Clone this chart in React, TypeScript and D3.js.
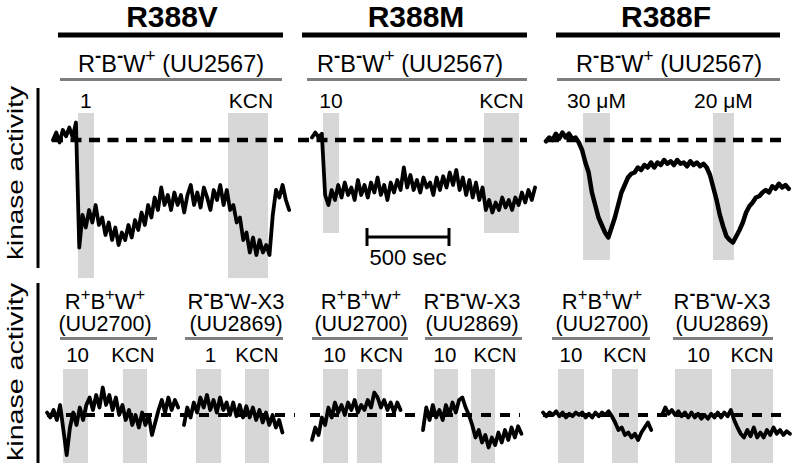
import React from 'react';
import * as d3 from 'd3';

// ---------- DATA ----------
// time step between samples (s); traces are relative kinase activity (% of baseline)
const SAMPLE_DT = 20;
const SCALE_BAR_SEC = 500;

const mutants = ['R388V', 'R388M', 'R388F'];
const topStrains = ['R^-B^-W^+ (UU2567)', 'R^-B^-W^+ (UU2567)', 'R^-B^-W^+ (UU2567)'];
const bottomStrainNames = ['R^+B^+W^+', 'R^-B^-W-X3', 'R^+B^+W^+', 'R^-B^-W-X3', 'R^+B^+W^+', 'R^-B^-W-X3'];
const bottomStrainIds = ['(UU2700)', '(UU2869)', '(UU2700)', '(UU2869)', '(UU2700)', '(UU2869)'];

const traceR388V_UU2567 = [
  100, 106, 98, 108, 103, 110, 102, 114, 14, 40,
  30, 44, 34, 48, 32, 38, 24, 34, 20, 30,
  16, 26, 20, 32, 22, 36, 28, 42, 32, 48,
  38, 54, 44, 62, 48, 56, 44, 58, 48, 56,
  42, 56, 64, 48, 58, 46, 62, 54, 44, 60,
  52, 64, 48, 60, 44, 48, 34, 38, 20, 26,
  10, 22, 8, 20, 10, 16, 8, 40, 60, 54,
  64, 52, 44,
];
const traceR388M_UU2567 = [
  102, 106, 102, 105, 56, 48, 60, 52, 64, 54,
  66, 56, 62, 52, 68, 56, 64, 54, 66, 58,
  70, 56, 64, 52, 66, 58, 68, 60, 78, 62,
  72, 60, 68, 58, 70, 62, 66, 56, 70, 60,
  71, 62, 74, 64, 76, 60, 70, 56, 68, 54,
  66, 52, 62, 44, 52, 42, 50, 44, 54, 46,
  52, 44, 54, 48, 58, 50, 60, 52, 62,
];
const traceR388F_UU2567 = [
  99, 102, 100, 105, 101, 106, 102, 105, 101, 102,
  98, 92, 82, 74, 58, 48, 38, 32, 26, 22,
  30, 38, 48, 58, 64, 70, 73, 74, 78, 76,
  80, 78, 82, 78, 82, 80, 84, 81, 83, 80,
  84, 81, 82, 79, 83, 80, 82, 79, 81, 78,
  72, 62, 52, 40, 31, 23, 20, 18, 23, 28,
  34, 42, 47, 50, 54, 55, 58, 60, 58, 63,
  61, 65, 62, 64, 61,
];
const traceR388V_UU2700 = [
  102, 98, 104, 96, 108, 88, 68, 90, 102, 92,
  106, 96, 108, 114, 104, 116, 106, 122, 108, 116,
  104, 114, 100, 108, 96, 104, 92, 100, 90, 102,
  92, 100, 84, 94, 104, 112, 102, 114, 104, 112,
  106,
];
const traceR388V_UU2869 = [
  92, 106, 98, 110, 102, 114, 106, 116, 104, 112,
  102, 114, 104, 110, 100, 110, 99, 108, 98, 107,
  98, 106, 96, 104, 94, 102, 92, 100, 90, 96,
  86,
];
const traceR388M_UU2700 = [
  80, 90, 84, 98, 92, 106, 98, 110, 102, 108,
  100, 110, 104, 112, 102, 108, 104, 112, 106, 118,
  114, 106, 112, 104, 110, 102, 110, 104,
];
const traceR388M_UU2869 = [
  88, 106, 96, 108, 98, 104, 96, 108, 100, 110,
  102, 112, 114, 106, 100, 92, 82, 88, 78, 84,
  74, 82, 76, 86, 78, 88, 80, 90, 82, 91,
  85,
];
const traceR388F_UU2700 = [
  102, 99, 102, 100, 103, 99, 102, 98, 101, 99,
  102, 100, 102, 98, 101, 98, 102, 99, 102, 100,
  103, 99, 94, 88, 90, 84, 86, 82, 85, 80,
  86, 90, 94, 88,
];
const traceR388F_UU2869 = [
  100, 106, 101, 104, 100, 103, 99, 102, 98, 102,
  98, 101, 97, 100, 97, 101, 98, 102, 98, 102,
  99, 104, 96, 90, 85, 82, 88, 83, 90, 82,
  86, 82, 88, 84, 90, 85, 88, 84, 87, 85,
];

// stimulus windows (s from trace start) and their labels
const stimTopV = [[152, 250], [1067, 1311]];
const stimTopM = [[67, 165], [1049, 1262]];
const stimTopF = [[226, 390], [1018, 1146]];
const stimLabelsTopV = ['1', 'KCN'];
const stimLabelsTopM = ['10', 'KCN'];
const stimLabelsTopF = ['30 μM', '20 μM'];
const stimBotV1 = [[98, 250], [463, 610]];
const stimBotV2 = [[73, 226], [372, 518]];
const stimBotM1 = [[67, 220], [274, 427]];
const stimBotM2 = [[67, 213], [293, 439]];
const stimBotF1 = [[91, 250], [421, 579]];
const stimBotF2 = [[79, 305], [421, 677]];
const stimLabelsBotV1 = ['10', 'KCN'];
const stimLabelsBotV2 = ['1', 'KCN'];
const stimLabelsBotM1 = ['10', 'KCN'];
const stimLabelsBotM2 = ['10', 'KCN'];
const stimLabelsBotF1 = ['10', 'KCN'];
const stimLabelsBotF2 = ['10', 'KCN'];

const yAxisLabel = 'kinase activity';
const scaleBarLabel = '500 sec';

// ---------- LAYOUT ----------
const W = 793;
const H = 465;
const FONT = '"Liberation Sans", Arial, Helvetica, sans-serif';
const PX_PER_S = 82 / 500;
const SHADE = '#d7d7d7';
const GRAY = '#7f7f7f';

const topPanels = [
  { values: traceR388V_UU2567, x0: 53, shadeY: [113, 278], stim: stimTopV, labels: stimLabelsTopV, labelDx: [0, 3], dash: [52, 283], sw: 3.8 },
  { values: traceR388M_UU2567, x0: 312, shadeY: [113, 233], stim: stimTopM, labels: stimLabelsTopM, labelDx: [0, 0], dash: [298, 527], sw: 3.8 },
  { values: traceR388F_UU2567, x0: 546, shadeY: [113, 260], stim: stimTopF, labels: stimLabelsTopF, labelDx: [0, 0], dash: [548, 786], sw: 4.5 },
];
const bottomPanels = [
  { values: traceR388V_UU2700, x0: 47, stim: stimBotV1, labels: stimLabelsBotV1, labelDx: [2, -2], sub: 105, line: [60, 157] },
  { values: traceR388V_UU2869, x0: 184, stim: stimBotV2, labels: stimLabelsBotV2, labelDx: [2, 0], sub: 236, line: [185, 283] },
  { values: traceR388M_UU2700, x0: 312, stim: stimBotM1, labels: stimLabelsBotM1, labelDx: [-1, 12], sub: 361, line: [312, 408] },
  { values: traceR388M_UU2869, x0: 423, stim: stimBotM2, labels: stimLabelsBotM2, labelDx: [-1, 12], sub: 472, line: [425, 522] },
  { values: traceR388F_UU2700, x0: 543, stim: stimBotF1, labels: stimLabelsBotF1, labelDx: [0, 0], sub: 602, line: [552, 650] },
  { values: traceR388F_UU2869, x0: 662, stim: stimBotF2, labels: stimLabelsBotF2, labelDx: [5, 0], sub: 722, line: [673, 773] },
];
const bottomDash = [[47, 295], [310, 520], [543, 790]];
const headers = [
  { cx: 172, bar: [58, 283], sub: 171, line: [60, 282] },
  { cx: 416, bar: [302, 527], sub: 410, line: [307, 527] },
  { cx: 666, bar: [556, 780], sub: 669, line: [557, 780] },
];

const yTop = d3.scaleLinear().domain([0, 100]).range([265, 140]);
const yBot = d3.scaleLinear().domain([0, 100]).range([540, 415]);

function xScaleFor(x0: number, n: number) {
  const T = (n - 1) * SAMPLE_DT;
  return d3.scaleLinear().domain([0, T]).range([x0, x0 + T * PX_PER_S]);
}

function Rich({ text, x, y, size, anchor = 'middle' }: any) {
  const parts: any[] = [];
  const re = /\^([+-])/g;
  let last = 0;
  let m: any;
  let k = 0;
  let pendingDown = false;
  const up = size * 0.42;
  while ((m = re.exec(text)) !== null) {
    const before = text.slice(last, m.index);
    if (before) {
      parts.push(<tspan key={k++} dy={pendingDown ? up : 0}>{before}</tspan>);
      pendingDown = false;
    }
    const isMinus = m[1] === '-';
    parts.push(
      <tspan key={k++} dy={pendingDown ? 0 : -up} fontSize={size * (isMinus ? 0.8 : 0.75)}
        fontWeight={isMinus ? 'bold' : 'normal'}>
        {isMinus ? '-' : '+'}
      </tspan>
    );
    pendingDown = true;
    last = m.index + m[0].length;
  }
  const rest = text.slice(last);
  if (rest) parts.push(<tspan key={k++} dy={pendingDown ? up : 0}>{rest}</tspan>);
  return (
    <text x={x} y={y} fontSize={size} textAnchor={anchor} fontFamily={FONT} fill="#000">
      {parts}
    </text>
  );
}

export default function App() {
  const line = (xs: any, ys: any) =>
    d3.line<number>().x((_, i) => xs(i * SAMPLE_DT)).y((d) => ys(d));

  return (
    <svg width={W} height={H} style={{ position: 'absolute', left: 0, top: 0, background: '#fff' }}>
      <rect x={0} y={0} width={W} height={H} fill="#fff" />
      {/* headers */}
      {headers.map((h, i) => (
        <g key={'h' + i}>
          <text x={h.cx} y={27} fontSize={30} fontWeight="bold" textAnchor="middle" fontFamily={FONT}>
            {mutants[i]}
          </text>
          <line x1={h.bar[0]} x2={h.bar[1]} y1={35} y2={35} stroke="#000" strokeWidth={5} />
          <Rich text={topStrains[i]} x={h.sub} y={72} size={23.5} />
          <line x1={h.line[0]} x2={h.line[1]} y1={79.5} y2={79.5} stroke={GRAY} strokeWidth={3} />
        </g>
      ))}

      {/* y axes */}
      <line x1={38} x2={38} y1={88} y2={268} stroke="#000" strokeWidth={3} />
      <line x1={38} x2={38} y1={283} y2={463} stroke="#000" strokeWidth={3} />
      <text transform="translate(22.5,173) rotate(-90)" fontSize={22} textAnchor="middle" fontFamily={FONT}
        textLength={174} lengthAdjust="spacingAndGlyphs">{yAxisLabel}</text>
      <text transform="translate(22.5,372) rotate(-90)" fontSize={22} textAnchor="middle" fontFamily={FONT}
        textLength={178} lengthAdjust="spacingAndGlyphs">{yAxisLabel}</text>

      {/* top panels */}
      {topPanels.map((p, i) => {
        const xs = xScaleFor(p.x0, p.values.length);
        return (
          <g key={'t' + i}>
            {p.stim.map((s, j) => (
              <rect key={j} x={xs(s[0])} y={p.shadeY[0]} width={xs(s[1]) - xs(s[0])}
                height={p.shadeY[1] - p.shadeY[0]} fill={SHADE} />
            ))}
            {p.stim.map((s, j) => (
              <text key={'l' + j} x={(xs(s[0]) + xs(s[1])) / 2 + p.labelDx[j]} y={108} fontSize={21}
                textAnchor="middle" fontFamily={FONT}>{p.labels[j]}</text>
            ))}
            <line x1={p.dash[0]} x2={p.dash[1]} y1={yTop(100)} y2={yTop(100)} stroke="#000"
              strokeWidth={4.5} strokeDasharray="11 7.5" />
            <path d={line(xs, yTop)(p.values) || ''} fill="none" stroke="#000" strokeWidth={p.sw}
              strokeLinejoin="round" strokeLinecap="round" />
          </g>
        );
      })}

      {/* scale bar */}
      {(() => {
        const xs = xScaleFor(topPanels[1].x0, topPanels[1].values.length);
        const a = xs(0) + 55;
        const b = a + (xs(SCALE_BAR_SEC) - xs(0));
        return (
          <g>
            <line x1={a} x2={b} y1={237} y2={237} stroke="#000" strokeWidth={3} />
            <line x1={a} x2={a} y1={228} y2={246} stroke="#000" strokeWidth={3} />
            <line x1={b} x2={b} y1={228} y2={246} stroke="#000" strokeWidth={3} />
            <text x={(a + b) / 2} y={265} fontSize={22} textAnchor="middle" fontFamily={FONT}>{scaleBarLabel}</text>
          </g>
        );
      })()}

      {/* bottom panels */}
      {bottomPanels.map((p, i) => {
        const xs = xScaleFor(p.x0, p.values.length);
        return (
          <g key={'b' + i}>
            {p.stim.map((s, j) => (
              <rect key={j} x={xs(s[0])} y={369} width={xs(s[1]) - xs(s[0])} height={94} fill={SHADE} />
            ))}
          </g>
        );
      })}
      {bottomDash.map((d, i) => (
        <line key={'bd' + i} x1={d[0]} x2={d[1]} y1={yBot(100)} y2={yBot(100)} stroke="#000"
          strokeWidth={4} strokeDasharray="10 9" />
      ))}
      {bottomPanels.map((p, i) => {
        const xs = xScaleFor(p.x0, p.values.length);
        return (
          <g key={'bb' + i}>
            <Rich text={bottomStrainNames[i]} x={p.sub} y={309} size={22} />
            <text x={p.sub} y={331} fontSize={21.5} textAnchor="middle" fontFamily={FONT}>{bottomStrainIds[i]}</text>
            <line x1={p.line[0]} x2={p.line[1]} y1={338.5} y2={338.5} stroke={GRAY} strokeWidth={3} />
            {p.stim.map((s, j) => (
              <text key={'l' + j} x={(xs(s[0]) + xs(s[1])) / 2 + p.labelDx[j]} y={362} fontSize={20.5}
                textAnchor="middle" fontFamily={FONT}>{p.labels[j]}</text>
            ))}
            <path d={line(xs, yBot)(p.values) || ''} fill="none" stroke="#000" strokeWidth={3.8}
              strokeLinejoin="round" strokeLinecap="round" />
          </g>
        );
      })}
    </svg>
  );
}
